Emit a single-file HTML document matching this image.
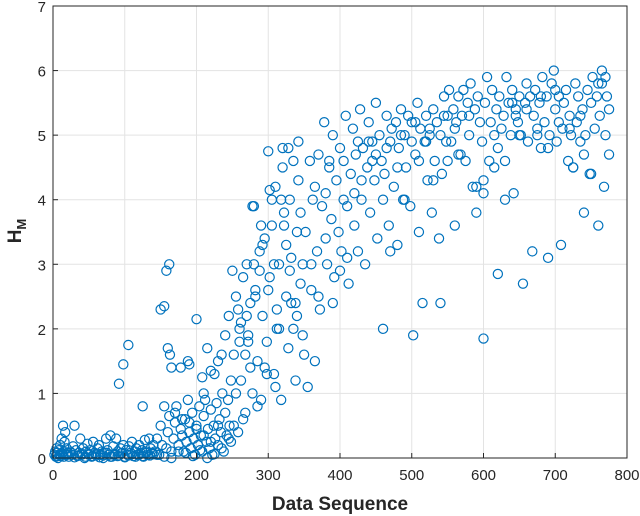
<!DOCTYPE html>
<html><head><meta charset="utf-8"><style>
html,body{margin:0;padding:0;background:#fff;}
svg{display:block;font-family:"Liberation Sans",Arial,sans-serif;}
</style></head><body>
<svg id="chart" width="640" height="516" viewBox="0 0 640 516" xmlns="http://www.w3.org/2000/svg">
<g id="grid"></g>
<g id="pts"></g>
<g id="axes"></g>
<text x="340" y="510" text-anchor="middle" font-size="19" font-weight="bold" fill="#262626">Data Sequence</text>
<text transform="translate(21,231) rotate(-90)" text-anchor="middle" font-size="19" font-weight="bold" fill="#262626">H<tspan font-size="13" dy="5">M</tspan></text>
</svg>
<script>
const xTicks=[0,100,200,300,400,500,600,700,800];
const yTicks=[0,1,2,3,4,5,6,7];
const seg1X=[2,3,4,5,6,7,8,9,10,11,12,13,14,15,16,17,18,19,20,22,24,26,28,30,32,34,36,38,40,42,44,46,48,50,52,54,56,58,60,62,64,66,68,70,72,74,76,78,80,82,84,86,88,90,92,94,96,98,100,102,104,106,108,110,112,114,116,118,120,122,124,126,128,130,132,134,136,138,140,5,10,15,20,25,30,35,40,45,50,55,60,65,70,75,80,85,90,95,100,105,110,115,120,125,130,135,140];
const seg1Y=[0.05,0.1,0.02,0.15,0.08,0.0,0.12,0.05,0.2,0.03,0.3,0.07,0.5,0.1,0.25,0.4,0.05,0.15,0.08,0.02,0.1,0.05,0.18,0.5,0.12,0.03,0.08,0.3,0.05,0.15,0.0,0.1,0.22,0.06,0.12,0.02,0.25,0.08,0.04,0.15,0.2,0.05,0.1,0.0,0.08,0.3,0.12,0.05,0.35,0.02,0.18,0.06,0.3,0.1,0.04,0.15,0.08,0.2,0.02,0.12,0.05,0.18,0.08,0.25,0.03,0.1,0.15,0.05,0.2,0.08,0.12,0.02,0.28,0.1,0.05,0.3,0.15,0.08,0.2,0.03,0.06,0.02,0.05,0.08,0.01,0.04,0.07,0.02,0.05,0.03,0.06,0.01,0.04,0.08,0.02,0.05,0.03,0.07,0.01,0.04,0.06,0.02,0.05,0.03,0.08,0.04,0.06];
const seg2X=[142,145,148,150,152,155,158,160,162,165,168,170,172,175,178,180,182,184,186,188,190,192,194,196,198,200,202,204,206,208,210,212,214,216,218,220,222,224,226,228,230,232,234,236,238,240,242,244,246,248,145,155,165,175,185,195,205,215,225,235,245,170,180,190,200,210,220,230];
const seg2Y=[0.1,0.3,0.05,0.5,0.2,0.8,0.15,0.4,0.65,0.1,0.3,0.55,0.8,0.2,0.45,0.35,0.1,0.6,0.25,0.9,0.4,0.15,0.7,0.3,0.05,0.5,0.2,0.8,0.35,0.1,0.65,0.9,0.25,0.45,0.15,0.75,0.05,0.5,0.3,0.85,0.2,0.6,0.4,1.0,0.1,0.7,0.35,0.9,0.5,0.25,0.05,0.02,0.0,0.1,0.08,0.03,0.12,0.0,0.06,0.15,0.3,0.7,0.6,0.55,0.45,0.35,0.25,0.5];
const seg3X=[92,98,105,125,150,155,158,162,160,163,165,178,188,190,200,208,210,215,220,225,230,235,240,245,248];
const seg3Y=[1.15,1.45,1.75,0.8,2.3,2.35,2.9,3.0,1.7,1.6,1.4,1.4,1.5,1.45,2.15,1.25,1.0,1.7,1.35,1.3,1.5,1.6,1.9,2.2,1.2];
const seg4X=[250,252,255,258,260,262,265,268,270,272,275,278,280,282,285,288,290,292,295,298,300,302,305,308,310,312,315,318,320,322,325,328,330,332,335,338,340,342,345,348,255,260,265,270,275,280,285,290,295,300,305,310,315,320,325,330,335,340,345,350,252,258,268,278,288,298,308,318,328,338,348,262,272,282,292,302,312,322,332,342];
const seg4Y=[2.9,1.6,2.5,0.4,2.0,1.2,2.8,0.7,3.0,1.9,2.4,1.0,3.9,2.6,1.5,3.2,0.9,2.2,3.4,1.8,4.75,2.8,3.6,1.3,4.2,2.3,3.0,0.9,4.5,3.8,2.5,1.7,4.0,3.1,2.0,1.2,3.5,4.3,2.7,1.9,1.0,1.8,0.6,2.2,1.4,3.0,0.8,3.6,1.4,2.6,4.0,1.1,2.0,4.8,3.3,2.9,4.6,2.2,3.8,1.6,0.5,2.3,1.6,3.9,2.9,1.3,3.0,4.0,4.8,2.4,3.0,2.1,1.8,2.5,3.3,4.15,2.0,3.6,2.4,4.9];
const seg5X=[352,355,358,360,362,365,368,370,372,375,378,380,382,385,388,390,392,395,398,400,402,405,408,410,412,415,418,420,422,425,428,430,432,435,438,440,442,445,448,450,452,455,458,460,462,465,468,470,472,475,478,480,482,485,488,490,492,495,498,500,502,505,508,510,512,515,518,520,522,525,528,530,532,535,538,540,542,545,548,550,360,370,380,390,400,410,420,430,440,450,460,470,480,490,500,510,520,530,540,550,365,385,405,425,445,465,485,505,525,545];
const seg5Y=[3.5,1.1,4.6,2.6,4.0,1.5,3.2,4.7,2.3,3.9,5.2,4.1,3.0,4.5,3.7,5.0,2.8,4.3,3.5,4.8,3.2,4.6,5.3,3.9,2.7,4.4,5.1,3.6,4.7,3.2,5.4,4.0,4.8,3.0,4.5,5.2,3.8,4.9,4.3,5.5,3.4,5.0,4.6,2.0,4.4,5.3,3.6,4.9,5.1,4.2,5.2,3.3,4.8,5.4,4.0,5.0,4.5,5.3,3.9,5.2,1.9,4.7,5.5,3.5,5.1,2.4,4.9,5.3,4.3,5.0,3.8,5.4,4.6,5.2,3.4,5.0,4.4,5.6,4.9,5.3,3.0,2.5,3.4,2.4,2.9,3.1,4.1,4.3,4.9,4.7,4.0,3.2,4.5,4.0,4.9,4.6,4.9,4.3,2.4,4.6,4.2,4.6,4.0,4.9,4.6,4.8,5.0,5.2,5.1,5.3];
const seg6X=[552,555,558,560,562,565,568,570,572,575,578,580,582,585,588,590,592,595,598,600,602,605,608,610,612,615,618,620,622,625,628,630,632,635,638,640,642,645,648,650,652,655,658,660,662,665,668,670,672,675,678,680,682,685,688,690,692,695,698,700,702,705,708,710,712,715,718,720,722,725,728,730,732,735,738,740,742,745,748,750,752,755,758,760,762,765,768,770,772,775,560,580,600,620,640,660,680,700,720,740,760,775,565,590,615,645,675,705,735,765,600,630,650,690,725,750,770];
const seg6Y=[5.7,4.9,5.4,3.6,5.2,5.6,4.7,5.3,5.7,4.6,5.5,5.0,5.8,4.2,5.4,3.8,5.6,5.2,4.9,1.85,5.5,5.9,4.6,5.2,5.7,5.0,5.4,4.8,5.6,5.1,5.3,4.0,5.9,5.5,5.0,5.7,4.1,5.4,5.2,5.6,5.0,2.7,5.5,5.8,4.9,5.6,3.2,5.3,5.7,5.0,5.5,4.8,5.9,5.2,5.6,3.1,5.0,5.8,6.0,5.4,4.9,5.6,3.3,5.1,5.5,5.7,4.6,5.3,5.0,4.5,5.8,5.2,5.6,4.9,5.4,3.8,5.0,5.7,4.4,5.5,5.9,5.1,5.6,3.6,5.3,5.8,4.2,5.0,5.6,5.4,5.1,5.3,4.3,2.85,5.5,5.4,5.6,5.7,5.1,4.7,5.8,4.7,4.7,4.2,4.5,5.3,5.1,5.2,5.3,6.0,4.1,4.6,5.0,4.8,4.5,4.4,5.9];

const L=53,R=627,T=6,B=458,NS="http://www.w3.org/2000/svg";
const sx=v=>L+(v-0)/(800-0)*(R-L);
const sy=v=>B-(v-0)/(7-0)*(B-T);
function mk(tag,attrs,parent){const e=document.createElementNS(NS,tag);for(const k in attrs)e.setAttribute(k,attrs[k]);parent.appendChild(e);return e;}
const grid=document.getElementById('grid'),axes=document.getElementById('axes'),pts=document.getElementById('pts');
xTicks.forEach(t=>{
  const g=mk('line',{x1:sx(t),x2:sx(t),y1:T,y2:B,stroke:'#e3e3e3','stroke-width':1},grid);
  
  
  const tk=mk('line',{x1:sx(t),x2:sx(t),y1:B,y2:B-5,stroke:'#262626','stroke-width':1},axes);
  
  
  const lb=mk('text',{x:sx(t),y:B+22,'text-anchor':'middle','font-size':15,fill:'#262626'},axes);
  lb.textContent=t;
  
  
});
yTicks.forEach(t=>{
  const g=mk('line',{x1:L,x2:R,y1:sy(t),y2:sy(t),stroke:'#e3e3e3','stroke-width':1},grid);
  
  
  const tk=mk('line',{x1:L,x2:L+5,y1:sy(t),y2:sy(t),stroke:'#262626','stroke-width':1},axes);
  
  
  const lb=mk('text',{x:L-7,y:sy(t)+6,'text-anchor':'end','font-size':15,fill:'#262626'},axes);
  lb.textContent=t;
  
  
});
const box=mk('rect',{x:L,y:T,width:R-L,height:B-T,fill:'none',stroke:'#262626','stroke-width':1},axes);


const allX=[].concat(seg1X,seg2X,seg3X,seg4X,seg5X,seg6X);
const allY=[].concat(seg1Y,seg2Y,seg3Y,seg4Y,seg5Y,seg6Y);
for(let i=0;i<allX.length;i++){
  const c=mk('circle',{cx:sx(allX[i]),cy:sy(allY[i]),r:4.6,fill:'none',stroke:'#0072BD','stroke-width':1.2},pts);
  
  
}
</script>
</body></html>
